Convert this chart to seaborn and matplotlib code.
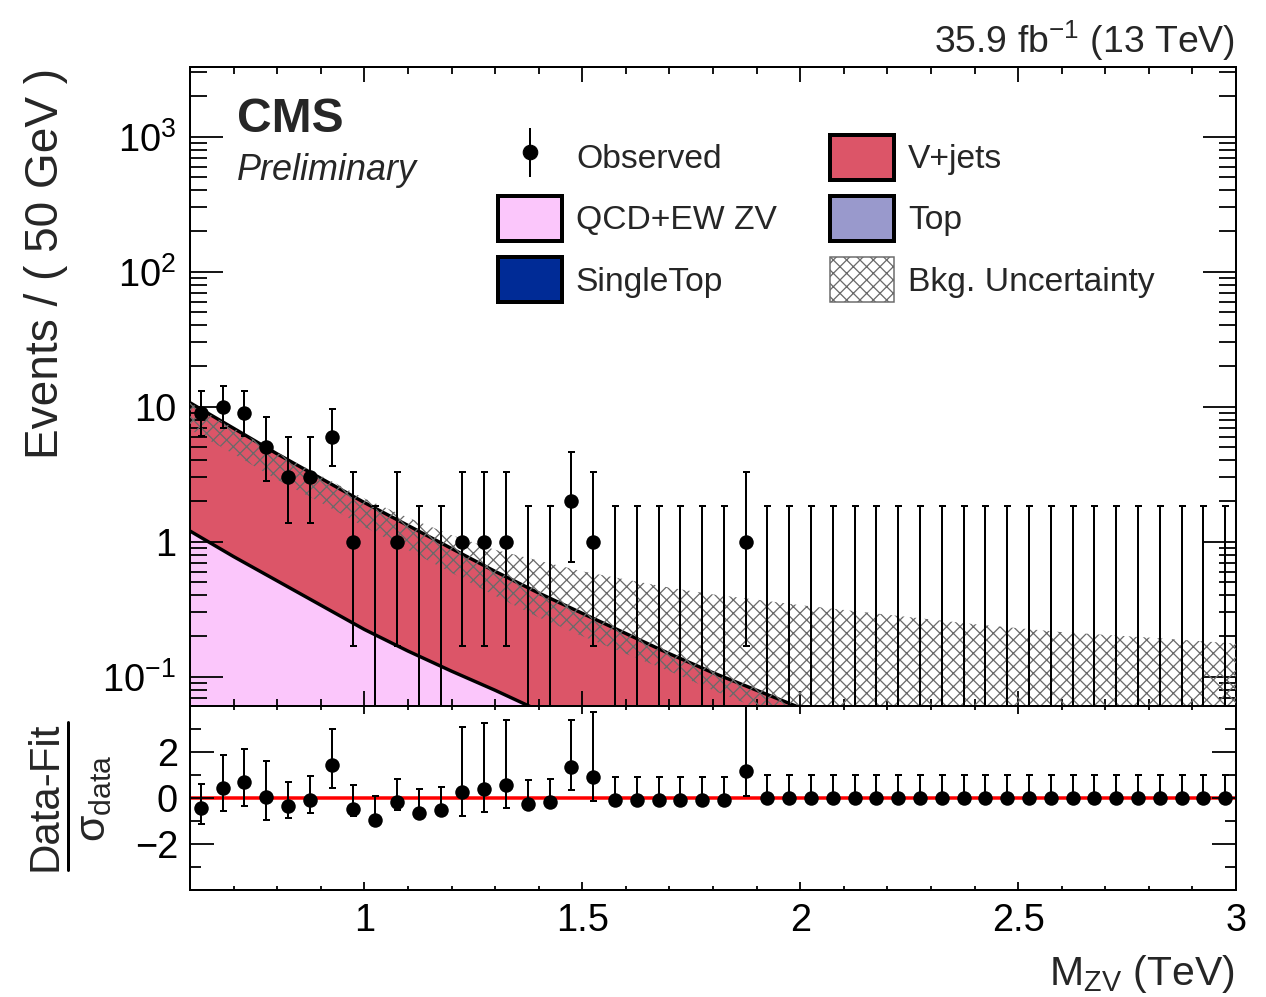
import numpy as np
import matplotlib
matplotlib.use("Agg")
import matplotlib.pyplot as plt
import matplotlib.ticker as mticker
from matplotlib.patches import Patch
from matplotlib.lines import Line2D
from matplotlib.legend_handler import HandlerTuple
import seaborn as sns

# ---------------- data ----------------
bin_centers = [0.625, 0.675, 0.725, 0.775, 0.825, 0.875, 0.925, 0.975,
               1.025, 1.075, 1.125, 1.175, 1.225, 1.275, 1.325, 1.375,
               1.425, 1.475, 1.525, 1.575, 1.625, 1.675, 1.725, 1.775,
               1.825, 1.875, 1.925, 1.975, 2.025, 2.075, 2.125, 2.175,
               2.225, 2.275, 2.325, 2.375, 2.425, 2.475, 2.525, 2.575,
               2.625, 2.675, 2.725, 2.775, 2.825, 2.875, 2.925, 2.975]
observed = [9, 10, 9, 5, 3, 3, 6, 1,
            0, 1, 0, 0, 1, 1, 1, 0,
            0, 2, 1, 0, 0, 0, 0, 0,
            0, 1, 0, 0, 0, 0, 0, 0,
            0, 0, 0, 0, 0, 0, 0, 0,
            0, 0, 0, 0, 0, 0, 0, 0]
# error-bar ends (low, high) read for each observed count
obs_interval = {0: (0.0, 1.84), 1: (0.17, 3.30), 2: (0.71, 4.64), 3: (1.37, 5.92),
                5: (2.84, 8.38), 6: (3.62, 9.58), 9: (6.06, 13.1), 10: (6.9, 14.3)}

# (Data - Fit) / sigma_data
pull = [-0.44, 0.44, 0.70, 0.03, -0.34, -0.07, 1.45, -0.49,
        -0.96, -0.19, -0.67, -0.52, 0.25, 0.41, 0.55, -0.25,
        -0.19, 1.33, 0.92, -0.07, -0.07, -0.07, -0.07, -0.07,
        -0.07, 1.18, 0.0, 0.0, 0.0, 0.0, 0.0, 0.0,
        0.0, 0.0, 0.0, 0.0, 0.0, 0.0, 0.0, 0.0,
        0.0, 0.0, 0.0, 0.0, 0.0, 0.0, 0.0, 0.0]
pull_hi = [0.59, 1.88, 2.15, 1.63, 0.70, 0.96, 3.00, 0.55,
           0.07, 0.84, 0.40, 0.49, 3.07, 3.26, 3.41, 0.77,
           0.81, 3.41, 3.75, 0.92, 0.92, 0.92, 0.92, 0.92,
           0.92, 4.30, 1.0, 1.0, 1.0, 1.0, 1.0, 1.0,
           1.0, 1.0, 1.0, 1.0, 1.0, 1.0, 1.0, 1.0,
           1.0, 1.0, 1.0, 1.0, 1.0, 1.0, 1.0, 1.0]
pull_lo = [-1.14, -0.56, -0.34, -0.96, -0.89, -0.64, 0.44, -0.77,
           -0.96, -0.52, -0.67, -0.52, -0.77, -0.59, -0.44, -0.25,
           -0.19, 0.33, -0.12, -0.07, -0.07, -0.07, -0.07, -0.07,
           -0.07, 0.10, 0.0, 0.0, 0.0, 0.0, 0.0, 0.0,
           0.0, 0.0, 0.0, 0.0, 0.0, 0.0, 0.0, 0.0,
           0.0, 0.0, 0.0, 0.0, 0.0, 0.0, 0.0, 0.0]

# fitted background shapes (events / 50 GeV)
fit_mass = [0.6, 0.7, 0.8, 0.9, 1.0, 1.1, 1.2, 1.3, 1.4, 1.5,
            1.6, 1.7, 1.8, 1.9, 2.0, 2.2, 2.4, 2.6, 2.8, 3.0]
stack_total = [10.7, 6.92, 4.47, 2.95, 1.95, 1.32, 0.891, 0.603, 0.417, 0.295,
               0.209, 0.148, 0.107, 0.0794, 0.0589, 0.0331, 0.0186, 0.0107, 0.0063, 0.0037]
qcd_ew_zv = [1.20, 0.776, 0.513, 0.339, 0.224, 0.155, 0.110, 0.0794, 0.0562, 0.0407,
             0.0295, 0.0219, 0.0162, 0.012, 0.0089, 0.005, 0.0028, 0.0016, 0.00089, 0.0005]
band_up = [10.7, 6.92, 4.57, 3.09, 2.09, 1.51, 1.12, 0.871, 0.724, 0.603,
           0.525, 0.457, 0.407, 0.372, 0.339, 0.288, 0.245, 0.214, 0.195, 0.176]
band_down = [6.76, 4.47, 2.88, 1.95, 1.29, 0.871, 0.589, 0.398, 0.275, 0.200,
             0.148, 0.110, 0.0794, 0.0589, 0.0437, 0.0251, 0.0141, 0.0079, 0.005, 0.0032]

legend_labels = ["Observed", "QCD+EW ZV", "SingleTop", "V+jets", "Top", "Bkg. Uncertainty"]
y_tick_values = [0.1, 1, 10, 100, 1000]
y_tick_labels = [r"$\mathregular{10^{-1}}$", "1", "10", r"$\mathregular{10^{2}}$", r"$\mathregular{10^{3}}$"]

# ---------------- style ----------------
sns.set_theme(style="ticks")
plt.rcParams["font.family"] = ["Liberation Sans", "DejaVu Sans"]
plt.rcParams["mathtext.fontset"] = "custom"
plt.rcParams["mathtext.rm"] = "Liberation Sans"
plt.rcParams["mathtext.it"] = "Liberation Sans:italic"
plt.rcParams["mathtext.bf"] = "Liberation Sans:bold"
plt.rcParams["mathtext.sf"] = "Liberation Sans"
plt.rcParams["hatch.color"] = "#6a6a6a"
plt.rcParams["hatch.linewidth"] = 1.15
plt.rcParams["axes.unicode_minus"] = True

W, H, DPI = 1266, 997, 80
def px(v):
    return v * 72.0 / DPI

C_VJ = "#dc5568"
C_QCD = "#fbc6fb"
C_TOP = "#9999cc"
C_ST = "#002b96"
C_HATCH = "#6a6a6a"
MARK = 14.5

fig = plt.figure(figsize=(W / DPI, H / DPI), dpi=DPI)
ax = fig.add_axes([190 / W, 1 - 706 / H, 1046 / W, 639 / H])
axr = fig.add_axes([190 / W, 1 - 890 / H, 1046 / W, 184 / H])

ax.set_yscale("log")

x_fit = np.array(fit_mass)
floor = np.full_like(x_fit, 1e-4)

# stacked backgrounds
ax.fill_between(x_fit, floor, stack_total, facecolor=C_VJ, edgecolor="none", zorder=1)
ax.fill_between(x_fit, floor, qcd_ew_zv, facecolor=C_QCD, edgecolor="none", zorder=1.1)
sns.lineplot(x=fit_mass, y=stack_total, ax=ax, color="black", lw=px(3.4),
             estimator=None, sort=False, zorder=2)
sns.lineplot(x=fit_mass, y=qcd_ew_zv, ax=ax, color="black", lw=px(3.4),
             estimator=None, sort=False, zorder=2)
# uncertainty band
ax.fill_between(x_fit, band_down, band_up, facecolor="none", edgecolor=C_HATCH,
                hatch="xx", linewidth=0, zorder=3)

# observed data
obs = np.array(observed, dtype=float)
lo = np.array([obs_interval[n][0] for n in observed])
hi = np.array([obs_interval[n][1] for n in observed])
xc = np.array(bin_centers)
ax.errorbar(xc, obs, yerr=[obs - lo, hi - obs], fmt="none", ecolor="black",
            elinewidth=px(2), capsize=px(3.5), capthick=px(2), zorder=4)
nz = obs > 0
sns.scatterplot(x=xc[nz], y=obs[nz], ax=ax, color="black", s=px(MARK) ** 2,
                linewidth=0, zorder=5)

# ratio panel
axr.axhline(0, color="#ff0000", lw=px(3.5), zorder=2)
pv = np.array(pull)
axr.errorbar(xc, pv, yerr=[pv - np.array(pull_lo), np.array(pull_hi) - pv], fmt="none",
             ecolor="black", elinewidth=px(2), capsize=px(3.5), capthick=px(2), zorder=4)
sns.scatterplot(x=xc, y=pv, ax=axr, color="black", s=px(MARK) ** 2, linewidth=0, zorder=5)

# ---------------- axes ----------------
for a in (ax, axr):
    a.set_xlim(0.6, 3.0)
    a.xaxis.set_major_locator(mticker.MultipleLocator(0.5))
    a.xaxis.set_minor_locator(mticker.MultipleLocator(0.1))
    a.tick_params(which="both", direction="in", top=True, right=True, bottom=True,
                  left=True, width=px(1.8), colors="black", labelcolor="black")
    for s in a.spines.values():
        s.set_visible(True)
        s.set_linewidth(px(2))
        s.set_color("black")
    a.set_axisbelow(False)
    a.set_xlabel("")
    a.set_ylabel("")
    a.grid(False)

ax.set_ylim(0.0607, 3280)
ax.yaxis.set_major_locator(mticker.FixedLocator(y_tick_values))
ax.yaxis.set_major_formatter(mticker.FixedFormatter(y_tick_labels))
ax.yaxis.set_minor_locator(mticker.LogLocator(base=10, subs=np.arange(2, 10), numticks=30))
ax.yaxis.set_minor_formatter(mticker.NullFormatter())
ax.tick_params(axis="y", which="major", length=px(33), pad=px(14), labelsize=px(38))
ax.tick_params(axis="y", which="minor", length=px(17))
ax.tick_params(axis="x", which="major", length=px(15), labelbottom=False)
ax.tick_params(axis="x", which="minor", length=px(7))

axr.set_ylim(-4, 4)
axr.yaxis.set_major_locator(mticker.FixedLocator([-2, 0, 2]))
axr.yaxis.set_minor_locator(mticker.FixedLocator([-3, -1, 1, 3]))
axr.xaxis.set_major_formatter(mticker.FuncFormatter(lambda v, p: f"{v:g}"))
axr.tick_params(axis="y", which="major", length=px(24), pad=px(12), labelsize=px(38))
axr.tick_params(axis="y", which="minor", length=px(11))
axr.tick_params(axis="x", which="major", length=px(8), pad=px(13), labelsize=px(38))
axr.tick_params(axis="x", which="minor", length=px(4))

# ---------------- legend ----------------
h_obs = (Line2D([], [], marker="|", markersize=px(49), markeredgewidth=px(2),
                color="black", linestyle="none"),
         Line2D([], [], marker="o", markersize=px(MARK), color="black", linestyle="none"))
h_qcd = Patch(facecolor=C_QCD, edgecolor="black", linewidth=px(4))
h_st = Patch(facecolor=C_ST, edgecolor="black", linewidth=px(4))
h_vj = Patch(facecolor=C_VJ, edgecolor="black", linewidth=px(4))
h_top = Patch(facecolor=C_TOP, edgecolor="black", linewidth=px(4))
h_unc = Patch(facecolor="white", edgecolor=C_HATCH, hatch="xx", linewidth=px(1.5))
fig.legend([h_obs, h_qcd, h_st, h_vj, h_top, h_unc], legend_labels, ncol=2,
           loc="upper left", bbox_to_anchor=(498 / W, 1 - 135 / H),
           bbox_transform=fig.transFigure, frameon=False, fontsize=px(33.6),
           handlelength=1.9, handleheight=1.68, handletextpad=0.42,
           columnspacing=1.58, labelspacing=0.48, borderpad=0, borderaxespad=0,
           numpoints=1, handler_map={tuple: HandlerTuple(ndivide=1)})

# ---------------- texts ----------------
fig.text(237 / W, 1 - 132 / H, "CMS", fontsize=px(48), fontweight="bold",
         ha="left", va="baseline")
fig.text(237 / W, 1 - 180 / H, "Preliminary", fontsize=px(36), fontstyle="italic",
         ha="left", va="baseline")
fig.text(1235 / W, 1 - 53 / H, r"35.9 fb$^{\mathregular{-1}}$ (13 TeV)", fontsize=px(37.4),
         ha="right", va="baseline")
fig.text(46 / W, 1 - 68 / H, "Events / ( 50 GeV )", fontsize=px(46), rotation=90,
         ha="center", va="top")
fig.text(1235 / W, 1 - 985 / H, r"M$_{\mathregular{ZV}}$ (TeV)", fontsize=px(41),
         ha="right", va="baseline")
fig.text(46 / W, 1 - 796 / H, "Data-Fit", fontsize=px(42), rotation=90,
         ha="center", va="center")
fig.add_artist(Line2D([68 / W, 68 / W], [1 - 722 / H, 1 - 870 / H],
                      transform=fig.transFigure, color="black", lw=px(3)))
fig.text(94 / W, 1 - 798 / H, r"σ$_{\mathregular{data}}$", fontsize=px(43),
         rotation=90, ha="center", va="center")

fig.savefig("out.png", dpi=DPI)
